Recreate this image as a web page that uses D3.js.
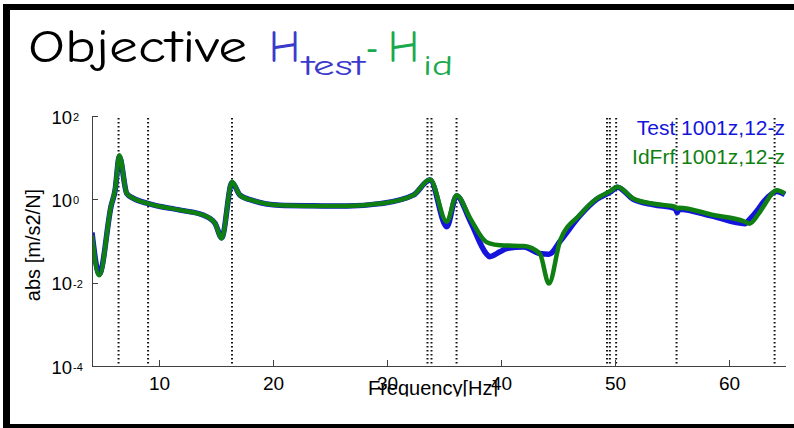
<!DOCTYPE html>
<html lang="en">
<head>
<meta charset="utf-8">
<style>
  body { margin: 0; background: #fff; }
  svg { display: block; }
  .axis path, .axis line { stroke: #404040; shape-rendering: crispEdges; }
  .axis text { font-family: "Liberation Sans", Arial, sans-serif; fill: #000; }
</style>
</head>
<body>
<div id="chart"></div>
<script src="https://d3js.org/d3.v7.min.js"></script>
<script>
// frequency points (Hz)
var freq = [4.12, 4.76, 5.8, 6.14, 6.52, 7.17, 7.72, 9.06, 11.84, 13.86, 14.9, 15.5, 16.4, 17.1,
  18.25, 20.6, 23.5, 26.5, 29.4, 32.3, 33.77, 35.24, 36.1, 37.3, 38.7, 39.0, 39.9, 40.5, 42.0,
  43.4, 44.2, 45.2, 46.9, 48.4, 49.6, 50.2, 51.6, 53.4, 55.3, 55.45, 55.6, 58.6, 61.4, 61.8,
  62.6, 63.0, 64.2, 64.9];

// Test 1001z,12-z  (abs, m/s2/N)
var testVals = [0.16, 0.016, 0.7, 1.6, 10.5, 1.38, 1.07, 0.79, 0.55, 0.42, 0.27, 0.12, 2.5, 1.26,
  0.93, 0.72, 0.70, 0.69, 0.79, 1.26, 2.9, 0.22, 1.2, 0.3, 0.05, 0.042, 0.055, 0.066, 0.072,
  0.05, 0.048, 0.1, 0.4, 1.0, 1.5, 1.95, 1.0, 0.74, 0.6, 0.48, 0.58, 0.39, 0.26, 0.33,
  0.6, 0.85, 1.55, 1.3];

// IdFrf 1001z,12-z
var idVals = [0.138, 0.015, 0.71, 1.66, 11.5, 1.38, 1.07, 0.79, 0.55, 0.42, 0.27, 0.115, 2.63, 1.26,
  0.93, 0.72, 0.69, 0.69, 0.79, 1.26, 3.0, 0.29, 1.26, 0.35, 0.095, 0.088, 0.079, 0.078, 0.076,
  0.050, 0.0095, 0.105, 0.42, 1.05, 1.58, 2.0, 1.05, 0.78, 0.66, 0.6, 0.63, 0.42, 0.29, 0.26,
  0.45, 0.66, 1.66, 1.38];

// identified natural frequencies (dotted lines)
var modeFreqs = [6.45, 9.04, 16.4, 33.55, 33.9, 36.1, 49.3, 49.55, 50.1, 55.4, 64.0];

var xTicks = [10, 20, 30, 40, 50, 60];
var yTicks = [1e-4, 1e-2, 1, 1e2];
var yExps = ["-4", "-2", "0", "2"];
var legendLabels = ["Test 1001z,12-z", "IdFrf 1001z,12-z"];

var W = 794, H = 428;
var pLeft = 92, pRight = 786, pTop = 116, pBottom = 366;

var svg = d3.select("#chart").append("svg")
  .attr("width", W).attr("height", H);

// slide frame
svg.append("rect").attr("x", 3).attr("y", 4).attr("width", W - 3).attr("height", 6).attr("fill", "#000");
svg.append("rect").attr("x", 3).attr("y", 4).attr("width", 7).attr("height", H - 4).attr("fill", "#000");
svg.append("rect").attr("x", 3).attr("y", 424).attr("width", W - 3).attr("height", 4).attr("fill", "#000");

// title
var tfont = '"Comic Sans MS", "Comic Neue", "Noto Sans", sans-serif';
var title = svg.append("g").attr("font-family", tfont);
title.append("text").attr("x", 28).attr("y", 62).attr("font-size", 46)
  .attr("textLength", 219).attr("lengthAdjust", "spacingAndGlyphs")
  .attr("fill", "#000").text("Objective");
title.append("text").attr("x", 269).attr("y", 62).attr("font-size", 46)
  .attr("textLength", 31).attr("lengthAdjust", "spacingAndGlyphs")
  .attr("fill", "#3a3acc").text("H");
title.append("text").attr("x", 302).attr("y", 75).attr("font-size", 28)
  .attr("textLength", 63).attr("lengthAdjust", "spacingAndGlyphs")
  .attr("fill", "#3a3acc").text("test");
title.append("text").attr("x", 366).attr("y", 62).attr("font-size", 46)
  .attr("textLength", 12).attr("lengthAdjust", "spacingAndGlyphs")
  .attr("fill", "#1aaa4e").text("-");
title.append("text").attr("x", 388).attr("y", 62).attr("font-size", 46)
  .attr("textLength", 31).attr("lengthAdjust", "spacingAndGlyphs")
  .attr("fill", "#1aaa4e").text("H");
title.append("text").attr("x", 423).attr("y", 75).attr("font-size", 28)
  .attr("textLength", 30).attr("lengthAdjust", "spacingAndGlyphs")
  .attr("fill", "#1aaa4e").text("id");

var x = d3.scaleLinear().domain([4.12, 65.0]).range([pLeft, pRight]);
var y = d3.scaleLog().domain([1e-4, 1e2]).range([pBottom, pTop]);

var defs = svg.append("defs");
defs.append("clipPath").attr("id", "plotclip")
  .append("rect").attr("x", pLeft).attr("y", pTop - 4)
  .attr("width", pRight - pLeft).attr("height", pBottom - pTop + 4);
defs.append("clipPath").attr("id", "xlabclip")
  .append("rect").attr("x", 0).attr("y", 0).attr("width", W).attr("height", 396.5);

// dotted mode lines
svg.append("g").selectAll("line").data(modeFreqs).enter().append("line")
  .attr("x1", function (d) { return x(d); })
  .attr("x2", function (d) { return x(d); })
  .attr("y1", pTop + 2).attr("y2", pBottom)
  .attr("stroke", "#111").attr("stroke-width", 2)
  .attr("stroke-dasharray", "1.5,2.5");

// curves
var testData = freq.map(function (f, i) { return [f, testVals[i]]; });
var idData = freq.map(function (f, i) { return [f, idVals[i]]; });
var line = d3.line()
  .x(function (d) { return x(d[0]); })
  .y(function (d) { return y(d[1]); })
  .curve(d3.curveMonotoneX);

var plot = svg.append("g").attr("clip-path", "url(#plotclip)");
plot.append("path").datum(testData).attr("d", line)
  .attr("fill", "none").attr("stroke", "#1414dc").attr("stroke-width", 5.5)
  .attr("stroke-linejoin", "round");
plot.append("path").datum(idData).attr("d", line)
  .attr("fill", "none").attr("stroke", "#0f7f12").attr("stroke-width", 4.5)
  .attr("stroke-linejoin", "round");

// x axis
var xAxis = svg.append("g").attr("class", "axis")
  .attr("transform", "translate(0," + pBottom + ")")
  .call(d3.axisBottom(x).tickValues(xTicks).tickFormat(d3.format("d"))
    .tickSizeInner(-6).tickSizeOuter(0).tickPadding(11));
xAxis.selectAll("text").attr("font-size", 19);
xAxis.select(".domain").attr("d", "M" + pLeft + ",0H" + pRight);

// y axis
var yAxis = svg.append("g").attr("class", "axis")
  .attr("transform", "translate(" + pLeft + ",0)")
  .call(d3.axisLeft(y).tickValues(yTicks).tickFormat("")
    .tickSizeInner(-6).tickSizeOuter(0));
yAxis.select(".domain").attr("d", "M0," + pTop + "V" + pBottom);
yAxis.selectAll(".tick").each(function (d, i) {
  var g = d3.select(this);
  g.append("text").attr("x", -20).attr("y", 7).attr("text-anchor", "end")
    .attr("font-size", 18.5).text("10");
  g.append("text").attr("x", -19).attr("y", 4.5).attr("text-anchor", "start")
    .attr("font-size", 11).text(yExps[i]);
});

// axis titles
svg.append("text")
  .attr("clip-path", "url(#xlabclip)")
  .attr("x", 433).attr("y", 395).attr("text-anchor", "middle")
  .attr("font-family", '"Liberation Sans", Arial, sans-serif').attr("font-size", 20)
  .text("Frequency[Hz]");
svg.append("text")
  .attr("transform", "translate(40,245) rotate(-90)")
  .attr("text-anchor", "middle")
  .attr("font-family", '"Liberation Sans", Arial, sans-serif').attr("font-size", 20)
  .text("abs [m/s2/N]");

// legend
svg.append("g").selectAll("text").data(legendLabels).enter().append("text")
  .attr("x", 785).attr("y", function (d, i) { return 135 + i * 28.5; })
  .attr("text-anchor", "end")
  .attr("font-family", '"Liberation Sans", Arial, sans-serif').attr("font-size", 21)
  .attr("fill", function (d, i) { return i === 0 ? "#1414dc" : "#0f7f12"; })
  .text(function (d) { return d; });
</script>
</body>
</html>
